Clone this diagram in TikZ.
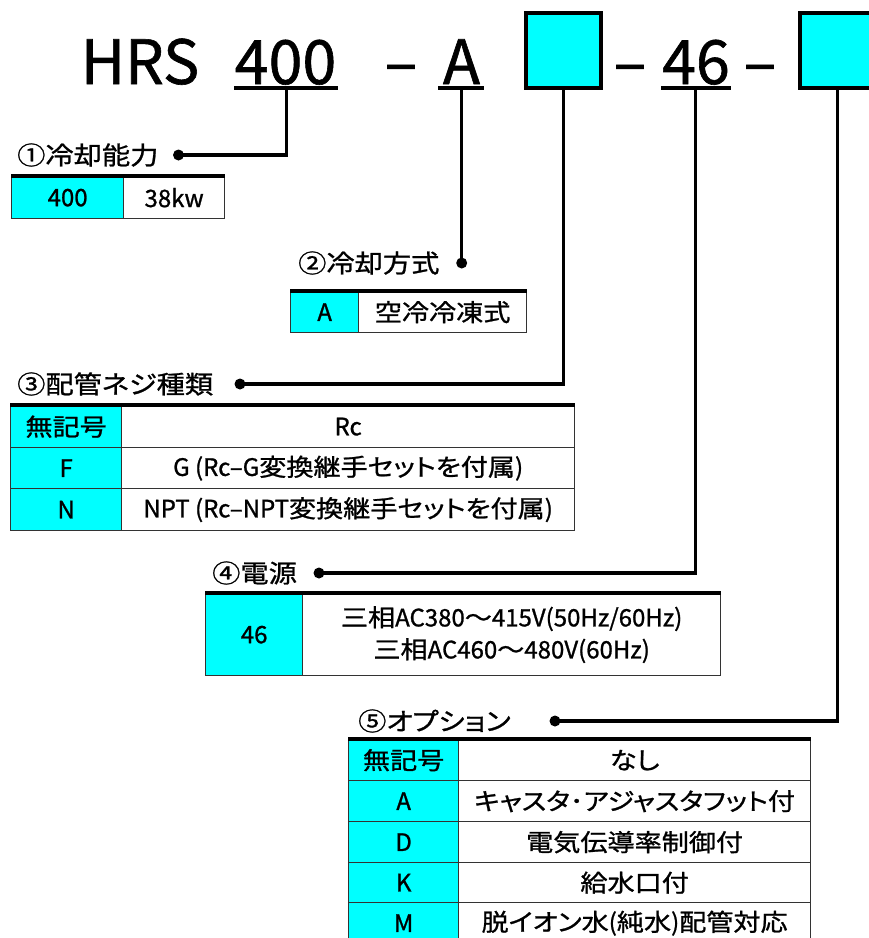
\documentclass[tikz,border=0pt]{standalone}
\usepackage{fontspec}
\setmainfont[FakeBold=1]{Noto Sans CJK JP}
\newfontfamily\J[FakeStretch=1.13,FakeBold=1,RawFeature=+palt]{Noto Sans CJK JP}
\definecolor{keycyan}{HTML}{00FFFF}
\begin{document}
\begin{tikzpicture}[x=1pt,y=-1pt,
  big/.style={font=\fontsize{61}{61}\selectfont, inner sep=0pt, anchor=base},
  uline/.style={line width=4pt},
  keybox/.style={draw=black, line width=4pt, fill=keycyan, minimum width=75pt, minimum height=75pt, inner sep=0pt},
  conn/.style={line width=3.5pt},
  dotnode/.style={circle, fill=black, inner sep=0pt, minimum size=11pt},
  lab/.style={font=\fontsize{25}{30}\selectfont\J, inner sep=0pt, anchor=west},
  cell/.style={draw=black!80, line width=1.3pt, inner sep=0pt, anchor=north west, font=\fontsize{24}{32}\selectfont, align=center},
  kcell/.style={cell, fill=keycyan},
  vcell/.style={cell, fill=white},
  topbar/.style={line width=3.5pt}]
\useasboundingbox (0,0) rectangle (869,938);
\clip (0,0) rectangle (869,938);
\fill[white] (0,0) rectangle (869,938);

% model code
\node[big] (hrs) at (140,84) {HRS};
\node[big] (c400) at (285.5,84) {400};
\node[big] (d1) at (401,84) {–};
\node[big] (cA) at (461.5,84) {A};
\node[keybox] (box1) at (563.5,50.5) {};
\node[big] (d2) at (630,84) {–};
\node[big] (c46) at (696,84) {46};
\node[big] (d3) at (760,84) {–};
\node[keybox] (box2) at (837.5,50.5) {};
\draw[uline] (234,87.5) -- (338,87.5);
\draw[uline] (438,87.5) -- (484,87.5);
\draw[uline] (661,87.5) -- (731,87.5);
\coordinate (u1) at (286.6,89);
\coordinate (u2) at (461.7,89);
\coordinate (u4) at (695.7,89);

% labels and dots
\node[lab] (lab1) at (17,155) {①冷却能力};
\node[dotnode] (dot1) at (178.5,155) {};
\node[lab] (lab2) at (298,263) {②冷却方式};
\node[dotnode] (dot2) at (461.7,263) {};
\node[lab] (lab3) at (17,384) {③配管ネジ種類};
\node[dotnode] (dot3) at (240,384) {};
\node[lab] (lab4) at (212,573) {④電源};
\node[dotnode] (dot4) at (319,573) {};
\node[lab] (lab5) at (358,721) {⑤オプション};
\node[dotnode] (dot5) at (555,721) {};

% connectors
\draw[conn] (u1) |- (dot1.center);
\draw[conn] (u2) -- (dot2.center);
\draw[conn] (box1.south) |- (dot3.center);
\draw[conn] (u4) |- (dot4.center);
\draw[conn] (box2.south) |- (dot5.center);

% table 1
\node[kcell, minimum width=112pt, minimum height=42pt] (t1k) at (11,176) {400};
\node[vcell, minimum width=101pt, minimum height=42pt] (t1v) at (123,176) {38kw};
\draw[topbar] (t1k.north west) -- (t1v.north east);

% table 2
\node[kcell, minimum width=68pt, minimum height=41pt] (t2k) at (290,291) {A};
\node[vcell, minimum width=168pt, minimum height=41pt] (t2v) at (358,291) {{\J 空冷冷凍式}};
\draw[topbar] (t2k.north west) -- (t2v.north east);

% table 3
\node[kcell, minimum width=111pt, minimum height=42pt] (t3k1) at (10,405) {{\J 無記号}};
\node[vcell, minimum width=453pt, minimum height=42pt] (t3v1) at (121,405) {Rc};
\node[kcell, minimum width=111pt, minimum height=41pt] (t3k2) at (10,447) {F};
\node[vcell, minimum width=453pt, minimum height=41pt] (t3v2) at (121,447) {G (Rc–G{\J 変換継手セットを付属})};
\node[kcell, minimum width=111pt, minimum height=42pt] (t3k3) at (10,488) {N};
\node[vcell, minimum width=453pt, minimum height=42pt] (t3v3) at (121,488) {NPT (Rc–NPT{\J 変換継手セットを付属})};
\draw[topbar] (t3k1.north west) -- (t3v1.north east);

% table 4
\node[kcell, minimum width=97pt, minimum height=82pt] (t4k) at (205,593) {46};
\node[vcell, minimum width=418pt, minimum height=82pt] (t4v) at (302,593) {{\J 三相}AC380{\J 〜}415V(50Hz/60Hz)\\{\J 三相}AC460{\J 〜}480V(60Hz)};
\draw[topbar] (t4k.north west) -- (t4v.north east);

% table 5
\node[kcell, minimum width=110pt, minimum height=41pt] (t5k1) at (348,739) {{\J 無記号}};
\node[vcell, minimum width=352pt, minimum height=41pt] (t5v1) at (458,739) {{\J なし}};
\node[kcell, minimum width=110pt, minimum height=41pt] (t5k2) at (348,780) {A};
\node[vcell, minimum width=352pt, minimum height=41pt] (t5v2) at (458,780) {{\J キャスタ･アジャスタフット付}};
\node[kcell, minimum width=110pt, minimum height=41pt] (t5k3) at (348,821) {D};
\node[vcell, minimum width=352pt, minimum height=41pt] (t5v3) at (458,821) {{\J 電気伝導率制御付}};
\node[kcell, minimum width=110pt, minimum height=40pt] (t5k4) at (348,862) {K};
\node[vcell, minimum width=352pt, minimum height=40pt] (t5v4) at (458,862) {{\J 給水口付}};
\node[kcell, minimum width=110pt, minimum height=41pt] (t5k5) at (348,902) {M};
\node[vcell, minimum width=352pt, minimum height=41pt] (t5v5) at (458,902) {{\J 脱イオン水}({\J 純水}){\J 配管対応}};
\draw[topbar] (t5k1.north west) -- (t5v1.north east);
\end{tikzpicture}
\end{document}
